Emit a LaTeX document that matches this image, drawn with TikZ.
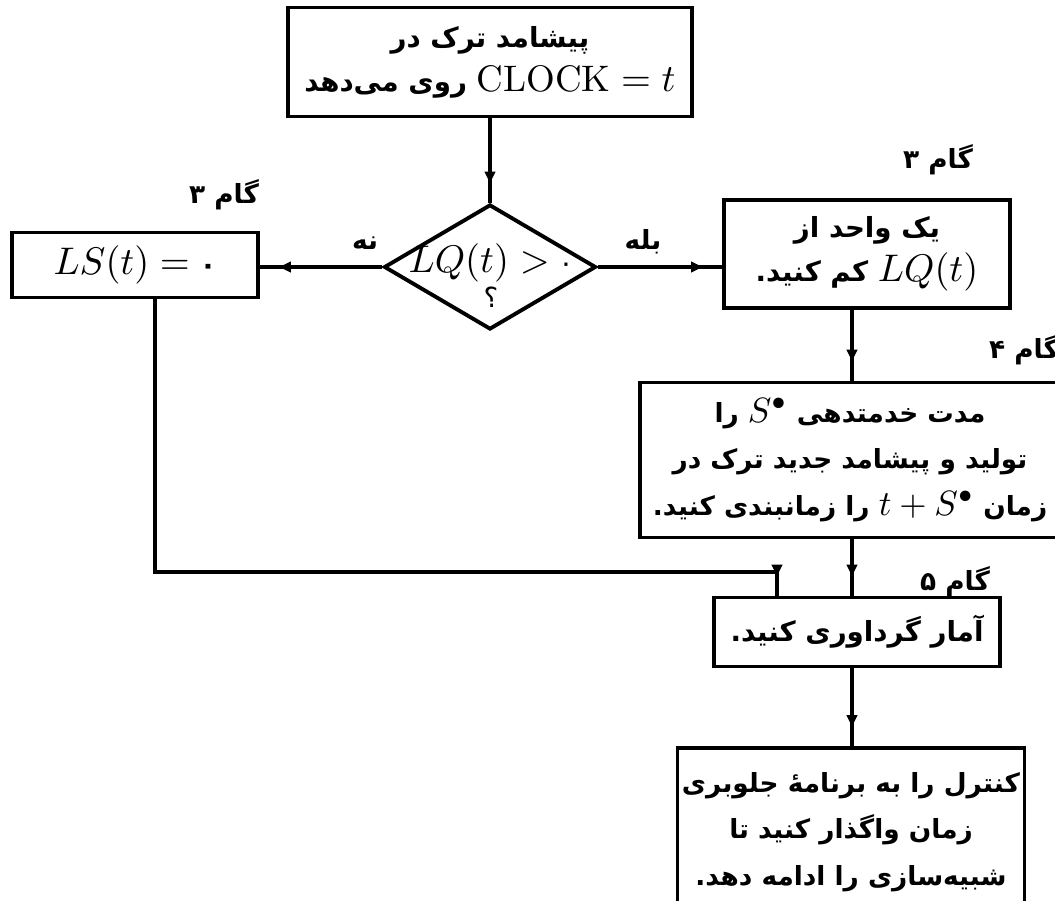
\documentclass[tikz,border=0pt]{standalone}
\usepackage{fontspec}
\usepackage{amsmath}
\usepackage{tikz}
\usetikzlibrary{shapes.geometric, arrows.meta, positioning, decorations.markings}
\newfontfamily\fa[Script=Arabic, Scale=0.75]{DejaVu Sans}
\TeXXeTstate=1

\begin{document}
\begin{tikzpicture}[
    x=0.1mm, y=-0.1mm,
    box/.style={rectangle, draw, line width=1.1pt, align=center, inner sep=0pt, font=\fa\bfseries\fontsize{10.5}{12.5}\selectfont},
    longbox/.style={box, font=\fa\bfseries\fontsize{10}{13.3}\selectfont},
    decision/.style={diamond, draw, line width=1.1pt, inner sep=0pt, minimum width=21.2mm, minimum height=12.5mm},
    steplabel/.style={font=\fa\bfseries\fontsize{10}{12}\selectfont, inner sep=0pt},
    arrow/.style={line width=1.1pt, decoration={markings, mark=at position -1.7mm with {\arrow{Latex[length=1.4mm,width=1.2mm]}}}, postaction={decorate}}
]
\useasboundingbox (0,0) rectangle (1055,901);

\node[box, minimum width=40.4mm, minimum height=10.9mm] (start) at (490,62) {\beginR پیشامد ترک در\endR\\ \beginR\beginL$\mathrm{CLOCK}=t$\endL{} روی می‌دهد\endR};

\node[decision] (test) at (490,267) {};
\node[font=\fa\fontsize{10.5}{12}\selectfont, align=center, inner sep=0pt] (testtxt) at (491,276) {\beginL$LQ(t)>$ ۰\endL\\[-2pt] ؟};

\node[box, minimum width=24.6mm, minimum height=6.5mm] (ls) at (135,265) {\beginL$LS(t) =$ ۰\endL};
\node[box, minimum width=28.6mm, minimum height=10.8mm] (dec) at (867,254) {\beginR یک واحد از\endR\\ \beginR\beginL$LQ(t)$\endL{} کم کنید.\endR};
\node[longbox, minimum width=42mm, minimum height=15.5mm] (serv) at (850,460) {\beginR مدت خدمتدهی \beginL$S^{\bullet}$\endL{} را\endR\\ \beginR تولید و پیشامد جدید ترک در\endR\\ \beginR زمان \beginL$t+S^{\bullet}$\endL{} را زمانبندی کنید.\endR};
\node[box, minimum width=28.6mm, minimum height=6.9mm] (stats) at (857,632) {\beginR آمار گرداوری کنید.\endR};
\node[longbox, minimum width=34.7mm, minimum height=16.8mm] (ret) at (851,832) {\beginR کنترل را به برنامهٔ جلوبری\endR\\ \beginR زمان واگذار کنید تا\endR\\ \beginR شبیه‌سازی را ادامه دهد.\endR};

% step labels
\node[steplabel] (g3a) at (224,195) {\beginR گام ۳\endR};
\node[steplabel] (g3b) at (938,160) {\beginR گام ۳\endR};
\node[steplabel] (g4) at (1024,350) {\beginR گام ۴\endR};
\node[steplabel] (g5) at (955,582) {\beginR گام ۵\endR};
\node[steplabel] (no) at (365,243) {\beginR نه\endR};
\node[steplabel] (yes) at (643,242) {\beginR بله\endR};

\coordinate (spine) at (852,0);
\coordinate (bend) at (155,572);
\coordinate (merge) at (777,572);

\draw[arrow] (start) -- (test);
\draw[arrow] (test.west) -- (test.west -| ls.east);
\draw[arrow] (test.east) -- (test.east -| dec.west);
\draw[arrow] (dec.south -| spine) -- (serv.north -| spine);
\draw[arrow] (ls.south -| bend) -- (bend) -- (merge) -- (merge |- stats.north);
\draw[arrow] (serv.south -| spine) -- (stats.north -| spine);
\draw[arrow] (stats.south -| spine) -- (ret.north -| spine);

\end{tikzpicture}
\end{document}
